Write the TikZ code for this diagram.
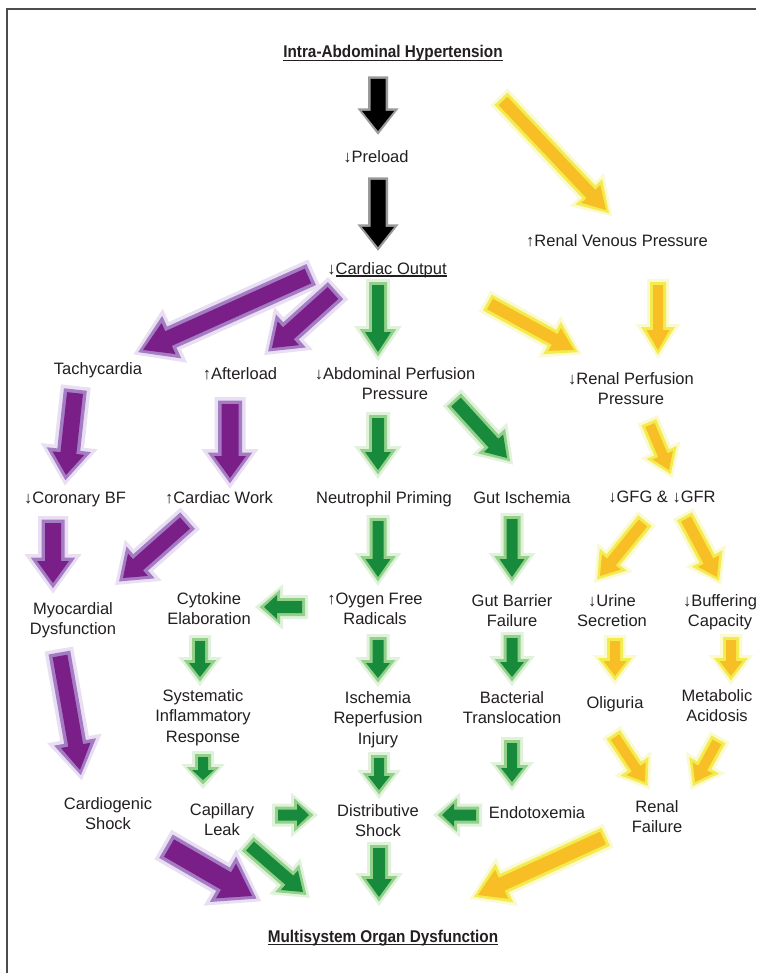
\documentclass[tikz,border=0pt]{standalone}
\usepackage{fontspec}
\setmainfont{Liberation Sans}
\newfontfamily\tfont[FakeStretch=0.9]{Liberation Sans}
\usetikzlibrary{calc}
\definecolor{txt}{HTML}{231F20}
\definecolor{Pcore}{HTML}{7A1F87}
\definecolor{Pline}{HTML}{A47CC4}
\definecolor{Pglow}{HTML}{E9DEF2}
\definecolor{Gcore}{HTML}{178A3C}
\definecolor{Gline}{HTML}{93D18B}
\definecolor{Gglow}{HTML}{E0F2DC}
\definecolor{Ycore}{HTML}{F7BF25}
\definecolor{Yline}{HTML}{F3EC4E}
\definecolor{Yglow}{HTML}{FBF9CF}
\definecolor{Kcore}{HTML}{000000}
\definecolor{Kline}{HTML}{9A9A9A}
\definecolor{Kglow}{HTML}{FFFFFF}
\def\oP{3.5}\def\oG{3}\def\oY{3}\def\oK{2.5}
\newsavebox\ulbox
\newcommand\ulx[1]{\sbox\ulbox{#1}\rlap{\rule[-2.6pt]{\wd\ulbox}{1.1pt}}\usebox\ulbox}
% block arrow polygon: style, tail, tip, shaft half width, head half width, head length
\newcommand\poly[6]{%
  \fill[#1] ($(#2)!#4!90:(#3)$) -- ($($(#3)!#6!(#2)$)!#4!90:(#3)$)
    -- ($($(#3)!#6!(#2)$)!#5!90:(#3)$) -- (#3)
    -- ($($(#3)!#6!(#2)$)!#5!-90:(#3)$) -- ($($(#3)!#6!(#2)$)!#4!-90:(#3)$)
    -- ($(#2)!#4!-90:(#3)$) -- cycle;}
% layered arrow: type, tail, tip, w, W, h
\newcommand\Arr[6]{%
  \pgfmathsetmacro\oo{\csname o#1\endcsname}%
  \pgfmathsetmacro\ea{2*\oo}\pgfmathsetmacro\eb{3*\oo}%
  \coordinate (aT1) at ($(#2)!-\ea pt!(#3)$);
  \coordinate (aH1) at ($(#3)!-\eb pt!(#2)$);
  \pgfmathsetmacro\ea{\oo}\pgfmathsetmacro\eb{1.5*\oo}%
  \coordinate (aT2) at ($(#2)!-\ea pt!(#3)$);
  \coordinate (aH2) at ($(#3)!-\eb pt!(#2)$);
  \pgfmathsetmacro\wa{#4+2*\oo}\pgfmathsetmacro\Wa{#5+3.6*\oo}\pgfmathsetmacro\ha{#6+5*\oo}%
  \poly{#1glow}{aT1}{aH1}{\wa pt}{\Wa pt}{\ha pt}
  \pgfmathsetmacro\wa{#4+\oo}\pgfmathsetmacro\Wa{#5+1.8*\oo}\pgfmathsetmacro\ha{#6+2.5*\oo}%
  \poly{#1line}{aT2}{aH2}{\wa pt}{\Wa pt}{\ha pt}
  \poly{#1core}{#2}{#3}{#4pt}{#5pt}{#6pt}
}
\tikzset{
  lbl/.style={anchor=base, inner sep=0pt, align=center,
    font=\fontsize{16.5}{20.5}\selectfont, text=txt},
  ttl/.style={anchor=base, inner sep=0pt, text=txt, font=\tfont\bfseries\fontsize{17}{20}\selectfont},
  uline/.style={draw=txt, line width=1.1pt},
  frame/.style={draw=black!70, line width=1.6pt}
}
\begin{document}
\begin{tikzpicture}[x=1pt,y=-1pt]
\useasboundingbox (0,0) rectangle (756,973);
\fill[white] (0,0) rectangle (756,973);
\draw[frame] (7,973) -- (7,9) -- (756,9);

% ---------- arrow end points ----------
\coordinate (k1t) at (378,79);  \coordinate (k1h) at (378,131);
\coordinate (k2t) at (378,180); \coordinate (k2h) at (378,247);
\coordinate (y1t) at (503,101); \coordinate (y1h) at (606,210);
\coordinate (y2t) at (490,304); \coordinate (y2h) at (574,350);
\coordinate (y3t) at (658,285); \coordinate (y3h) at (658,350);
\coordinate (y4t) at (650,425); \coordinate (y4h) at (669,470);
\coordinate (y5t) at (643,523); \coordinate (y5h) at (600,576);
\coordinate (y6t) at (686,519); \coordinate (y6h) at (717,577);
\coordinate (y7t) at (615,641); \coordinate (y7h) at (615,676);
\coordinate (y8t) at (731,640); \coordinate (y8h) at (731,676);
\coordinate (y9t) at (615,737); \coordinate (y9h) at (645,782);
\coordinate (y10t) at (717,742); \coordinate (y10h) at (695,782);
\coordinate (y11t) at (603,838); \coordinate (y11h) at (478,895);
\coordinate (p1t) at (308,276); \coordinate (p1h) at (143,350);
\coordinate (p2t) at (333,293); \coordinate (p2h) at (272,348);
\coordinate (p3t) at (75,393);  \coordinate (p3h) at (66,475);
\coordinate (p4t) at (230,404); \coordinate (p4h) at (230,478);
\coordinate (p5t) at (53,523);  \coordinate (p5h) at (53,583);
\coordinate (p6t) at (185,523); \coordinate (p6h) at (123,578);
\coordinate (p7t) at (60,656);  \coordinate (p7h) at (80,770);
\coordinate (p8t) at (169,848); \coordinate (p8h) at (252,896);
\coordinate (g1t) at (378,285); \coordinate (g1h) at (378,352);
\coordinate (g2t) at (378,418); \coordinate (g2h) at (378,470);
\coordinate (g3t) at (456,402); \coordinate (g3h) at (507,458);
\coordinate (g4t) at (378,521); \coordinate (g4h) at (378,577);
\coordinate (g5t) at (512,519); \coordinate (g5h) at (512,577);
\coordinate (g6t) at (302,607); \coordinate (g6h) at (264,607);
\coordinate (g7t) at (378,640); \coordinate (g7h) at (378,678);
\coordinate (g8t) at (200,641); \coordinate (g8h) at (200,677);
\coordinate (g9t) at (512,638); \coordinate (g9h) at (512,677);
\coordinate (g10t) at (203,757); \coordinate (g10h) at (203,780);
\coordinate (g11t) at (379,758); \coordinate (g11h) at (379,790);
\coordinate (g12t) at (512,743); \coordinate (g12h) at (512,782);
\coordinate (g13t) at (278,815); \coordinate (g13h) at (309,815);
\coordinate (g14t) at (476,815); \coordinate (g14h) at (442,815);
\coordinate (g15t) at (250,846); \coordinate (g15h) at (303,892);
\coordinate (g16t) at (379,848); \coordinate (g16h) at (379,897);

% ---------- block arrows ----------
\Arr{K}{k1t}{k1h}{7.5}{16}{20}
\Arr{K}{k2t}{k2h}{7.5}{16}{20}
\Arr{Y}{y1t}{y1h}{6}{13}{22}
\Arr{Y}{y2t}{y2h}{6}{13}{22}
\Arr{Y}{y3t}{y3h}{5}{11.5}{20}
\Arr{Y}{y4t}{y4h}{5}{11}{16}
\Arr{Y}{y5t}{y5h}{5.5}{12}{18}
\Arr{Y}{y6t}{y6h}{5.5}{12}{18}
\Arr{Y}{y7t}{y7h}{5}{11.5}{15}
\Arr{Y}{y8t}{y8h}{5}{11.5}{15}
\Arr{Y}{y9t}{y9h}{5}{11.5}{16}
\Arr{Y}{y10t}{y10h}{5}{11.5}{16}
\Arr{Y}{y11t}{y11h}{7}{16}{26}
\Arr{P}{p1t}{p1h}{8}{17}{28}
\Arr{P}{p2t}{p2h}{8}{16}{22}
\Arr{P}{p3t}{p3h}{8}{16}{22}
\Arr{P}{p4t}{p4h}{8.5}{16}{22}
\Arr{P}{p5t}{p5h}{8}{16}{22}
\Arr{P}{p6t}{p6h}{7.5}{15}{20}
\Arr{P}{p7t}{p7h}{7.5}{15}{25}
\Arr{P}{p8t}{p8h}{10}{20}{30}
\Arr{G}{g1t}{g1h}{6}{13}{20}
\Arr{G}{g2t}{g2h}{6}{13}{18}
\Arr{G}{g3t}{g3h}{6.5}{13}{20}
\Arr{G}{g4t}{g4h}{5.5}{12.5}{18}
\Arr{G}{g5t}{g5h}{5.5}{12.5}{18}
\Arr{G}{g6t}{g6h}{6}{12}{13}
\Arr{G}{g7t}{g7h}{5.5}{12}{15}
\Arr{G}{g8t}{g8h}{5}{11}{14}
\Arr{G}{g9t}{g9h}{5.5}{12}{15}
\Arr{G}{g10t}{g10h}{5}{11}{10}
\Arr{G}{g11t}{g11h}{5}{11}{14}
\Arr{G}{g12t}{g12h}{5}{11}{14}
\Arr{G}{g13t}{g13h}{5.5}{11.5}{12}
\Arr{G}{g14t}{g14h}{5.5}{11.5}{12}
\Arr{G}{g15t}{g15h}{6}{13}{18}
\Arr{G}{g16t}{g16h}{6}{13}{18}

% ---------- texts (anchor = baseline of last line) ----------
\node[ttl] (iah) at (393,58) {Intra-Abdominal Hypertension};
\draw[uline] ([yshift=-2.5pt]iah.base west) -- ([yshift=-2.5pt]iah.base east);
\node[lbl] (pre) at (376,163) {↓Preload};
\node[lbl] (co) at (387,274) {↓\ulx{Cardiac Output}};
\node[lbl] (rvp) at (617,247) {↑Renal Venous Pressure};
\node[lbl] (tac) at (98,374) {Tachycardia};
\node[lbl] (aft) at (240,379) {↑Afterload};
\node[lbl] (app) at (395,399.5) {↓Abdominal Perfusion\\Pressure};
\node[lbl] (rpp) at (631,404.5) {↓Renal Perfusion\\Pressure};
\node[lbl] (cbf) at (75,503) {↓Coronary BF};
\node[lbl] (cw) at (219,503) {↑Cardiac Work};
\node[lbl] (np) at (384,503) {Neutrophil Priming};
\node[lbl] (gi) at (522,503) {Gut Ischemia};
\node[lbl] (gfg) at (662,502) {↓GFG \& ↓GFR};
\node[lbl] (md) at (73,634.5) {Myocardial\\Dysfunction};
\node[lbl] (ce) at (209,624.5) {Cytokine\\Elaboration};
\node[lbl] (ofr) at (375,624.5) {↑Oygen Free\\Radicals};
\node[lbl] (gbf) at (512,626.5) {Gut Barrier\\Failure};
\node[lbl] (us) at (612,626.5) {↓Urine\\Secretion};
\node[lbl] (bc) at (720,626.5) {↓Buffering\\Capacity};
\node[lbl] (sir) at (203,742) {Systematic\\Inflammatory\\Response};
\node[lbl] (iri) at (378,744) {Ischemia\\Reperfusion\\Injury};
\node[lbl] (bt) at (512,723.5) {Bacterial\\Translocation};
\node[lbl] (oli) at (615,708) {Oliguria};
\node[lbl] (ma) at (717,721.5) {Metabolic\\Acidosis};
\node[lbl] (cs) at (108,829.5) {Cardiogenic\\Shock};
\node[lbl] (cl) at (222,835.5) {Capillary\\Leak};
\node[lbl] (ds) at (378,836.5) {Distributive\\Shock};
\node[lbl] (endo) at (537,818) {Endotoxemia};
\node[lbl] (rf) at (657,832.5) {Renal\\Failure};
\node[ttl] (mod) at (383,942) {Multisystem Organ Dysfunction};
\draw[uline] ([yshift=-2.5pt]mod.base west) -- ([yshift=-2.5pt]mod.base east);
\end{tikzpicture}
\end{document}
